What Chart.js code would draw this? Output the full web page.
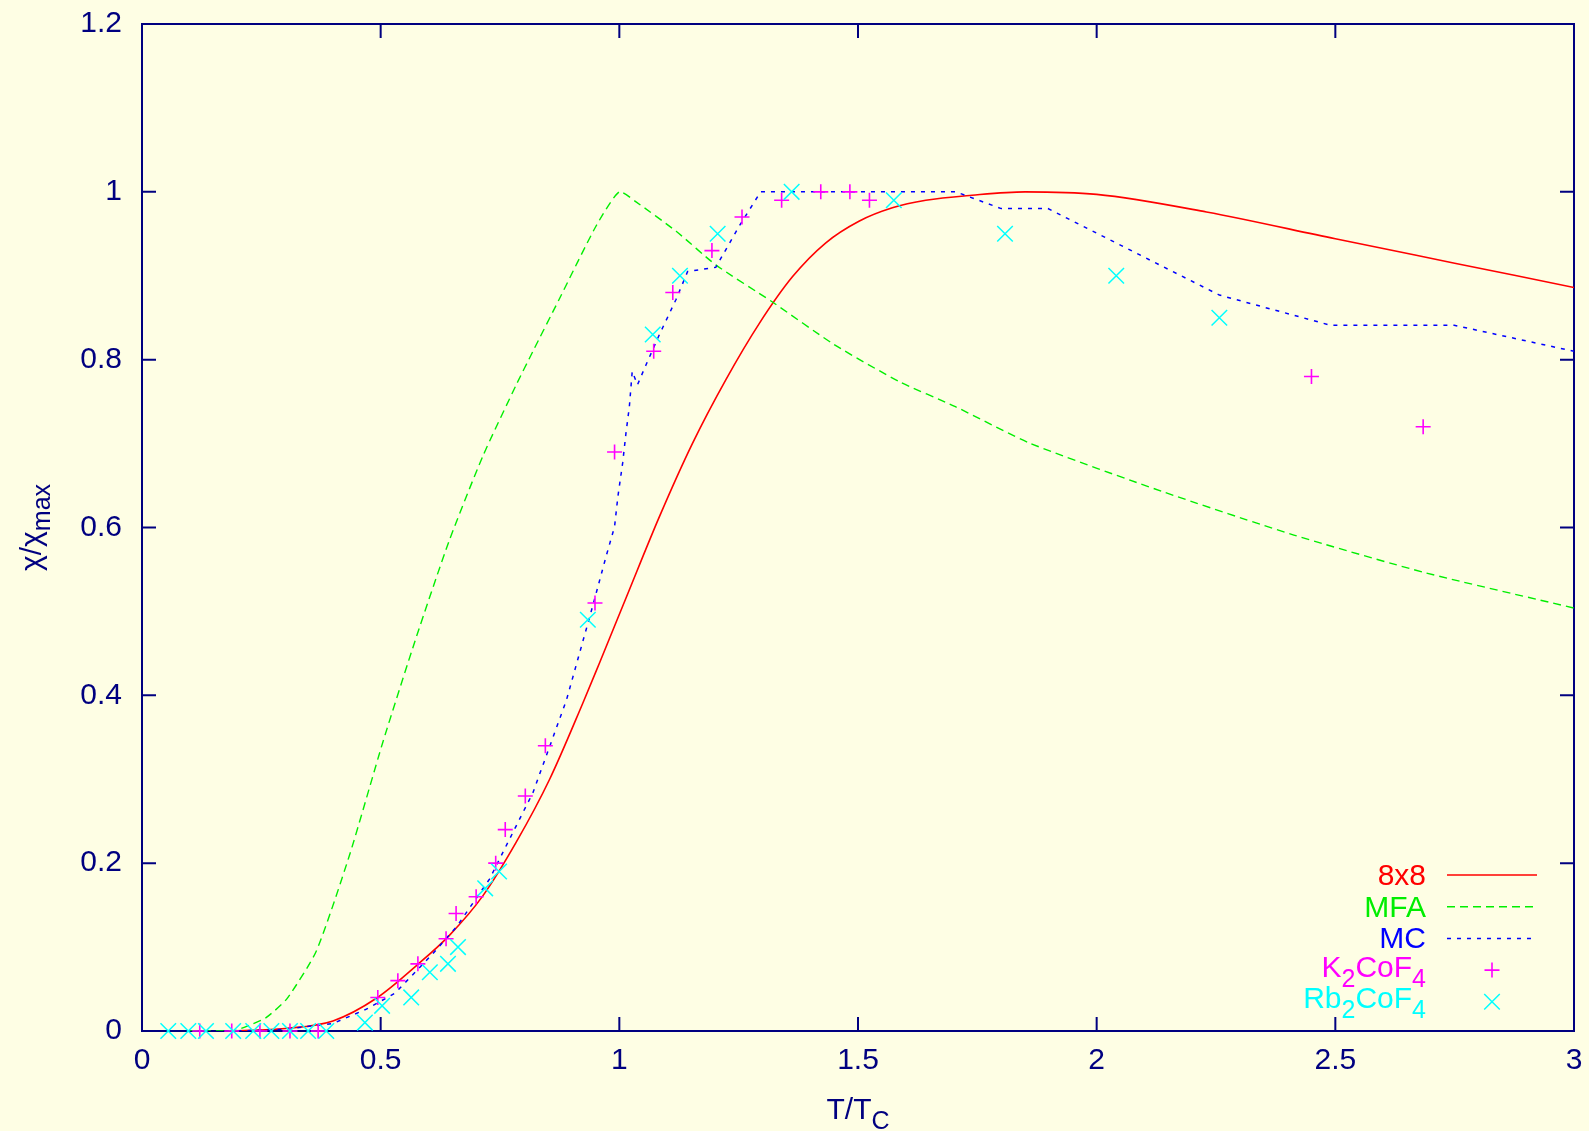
<!DOCTYPE html>
<html lang="en">
<head>
<meta charset="utf-8">
<title>chi / chi max</title>
<script src="https://cdn.jsdelivr.net/npm/chart.js@4.4.1/dist/chart.umd.min.js"></script>
<style>
  html, body { margin: 0; padding: 0; background: #fefee4; overflow: hidden; }
  #caixa { width: 1589px; height: 1131px; }
</style>
</head>
<body>
<div id="caixa"><canvas id="grafico"></canvas></div>
<script>
const corFundo = "#fefee4";
const corEixo = "#000080";
const fonte = "'Liberation Sans', Arial, Helvetica, sans-serif";

// eixos
const valoresX = [0, 0.5, 1, 1.5, 2, 2.5, 3];
const rotulosX = ["0", "0.5", "1", "1.5", "2", "2.5", "3"];
const valoresY = [0, 0.2, 0.4, 0.6, 0.8, 1, 1.2];
const rotulosY = ["0", "0.2", "0.4", "0.6", "0.8", "1", "1.2"];

// 8x8
const t8x8   = [0.19, 0.3, 0.4, 0.491, 0.575, 0.644, 0.714, 0.784, 0.854, 0.923, 0.958, 1.014, 1.084, 1.153, 1.223, 1.293, 1.363, 1.432, 1.502, 1.572, 1.642, 1.739, 1.85, 2.0, 2.23, 2.5, 2.75, 3.0];
const chi8x8 = [0, 0.003, 0.012, 0.039, 0.078, 0.114, 0.161, 0.225, 0.30, 0.39, 0.438, 0.516, 0.613, 0.70, 0.776, 0.843, 0.899, 0.939, 0.965, 0.981, 0.990, 0.996, 1.0, 0.997, 0.976, 0.944, 0.915, 0.886];

// MFA
const tMFA   = [0.1, 0.19, 0.226, 0.26, 0.303, 0.365, 0.435, 0.505, 0.575, 0.644, 0.714, 0.784, 0.819, 0.874, 0.951, 1.0, 1.035, 1.119, 1.202, 1.32, 1.45, 1.586, 1.704, 1.862, 2.137, 2.413, 2.689, 3.0];
const chiMFA = [0, 0, 0.007, 0.016, 0.038, 0.095, 0.21, 0.345, 0.47, 0.585, 0.685, 0.77, 0.81, 0.872, 0.959, 1.0, 0.988, 0.953, 0.913, 0.869, 0.818, 0.774, 0.744, 0.70, 0.643, 0.591, 0.546, 0.504];

// MC
const tMC   = [0.2, 0.3, 0.4, 0.47, 0.53, 0.609, 0.66, 0.728, 0.78, 0.819, 0.889, 0.944, 0.972, 0.99, 0.997, 1.007, 1.014, 1.021, 1.027, 1.038, 1.056, 1.084, 1.119, 1.143, 1.202, 1.251, 1.296, 1.705, 1.80, 1.898, 2.257, 2.49, 2.749, 3.0];
const chiMC = [0, 0.002, 0.009, 0.026, 0.045, 0.092, 0.125, 0.181, 0.24, 0.284, 0.394, 0.506, 0.565, 0.601, 0.637, 0.677, 0.713, 0.744, 0.786, 0.77, 0.794, 0.83, 0.872, 0.905, 0.91, 0.959, 1.0, 1.0, 0.98, 0.98, 0.877, 0.841, 0.841, 0.81];

// K2CoF4
const tK2CoF4   = [0.121, 0.188, 0.247, 0.31, 0.369, 0.494, 0.536, 0.578, 0.637, 0.658, 0.70, 0.741, 0.761, 0.803, 0.845, 0.949, 0.99, 1.072, 1.112, 1.194, 1.257, 1.34, 1.422, 1.483, 1.524, 2.45, 2.684];
const chiK2CoF4 = [0, 0, 0, 0, 0, 0.04, 0.06, 0.08, 0.11, 0.14, 0.16, 0.20, 0.24, 0.28, 0.34, 0.51, 0.69, 0.81, 0.88, 0.93, 0.97, 0.99, 1.0, 1.0, 0.99, 0.78, 0.72];

// Rb2CoF4
const tRb2CoF4   = [0.055, 0.097, 0.134, 0.191, 0.233, 0.271, 0.31, 0.348, 0.386, 0.467, 0.503, 0.564, 0.603, 0.641, 0.662, 0.719, 0.748, 0.934, 1.07, 1.127, 1.206, 1.361, 1.575, 1.808, 2.041, 2.257];
const chiRb2CoF4 = [0, 0, 0, 0, 0, 0, 0, 0, 0, 0.01, 0.03, 0.04, 0.07, 0.08, 0.10, 0.17, 0.19, 0.49, 0.83, 0.90, 0.95, 1.0, 0.99, 0.95, 0.90, 0.85];

// textos com indice: [texto, ehIndice]
const rotulosLegenda = [
    [["8x8", 0]],
    [["MFA", 0]],
    [["MC", 0]],
    [["K", 0], ["2", 1], ["CoF", 0], ["4", 1]],
    [["Rb", 0], ["2", 1], ["CoF", 0], ["4", 1]]
];
const tituloX = [["T/T", 0], ["C", 1]];
const tituloY = [["\u03c7/\u03c7", 0], ["max", 1]];

function pares(xs, ys) {
    return xs.map((x, i) => ({ x: x, y: ys[i] }));
}

function larguraTexto(ctx, partes, tam, tamIndice) {
    let w = 0;
    for (const [txt, indice] of partes) {
        ctx.font = `${indice ? tamIndice : tam}px ${fonte}`;
        w += ctx.measureText(txt).width;
    }
    return w;
}

function escreverTexto(ctx, partes, x, y, tam, tamIndice, desce) {
    ctx.textBaseline = "alphabetic";
    ctx.textAlign = "left";
    for (const [txt, indice] of partes) {
        ctx.font = `${indice ? tamIndice : tam}px ${fonte}`;
        ctx.fillText(txt, x, indice ? y + desce : y);
        x += ctx.measureText(txt).width;
    }
}

// sem folga extra nas pontas dos eixos, a area fica so com o padding do layout
function semFolga(s) {
    s.paddingTop = 0;
    s.paddingBottom = 0;
    s.paddingLeft = 0;
    s.paddingRight = 0;
}

const fundo = {
    id: "fundo",
    beforeDraw(chart) {
        const ctx = chart.ctx;
        ctx.save();
        ctx.fillStyle = corFundo;
        ctx.fillRect(0, 0, chart.width, chart.height);
        ctx.restore();
    }
};

// borda e ticks para dentro, estilo gnuplot
const moldura = {
    id: "moldura",
    beforeDatasetsDraw(chart) {
        const { ctx, chartArea: a, scales } = chart;
        const tam = 14;
        ctx.save();
        ctx.strokeStyle = corEixo;
        ctx.lineWidth = 2;
        ctx.beginPath();
        valoresX.forEach(v => {
            const px = scales.x.getPixelForValue(v);
            ctx.moveTo(px, a.bottom); ctx.lineTo(px, a.bottom - tam);
            ctx.moveTo(px, a.top); ctx.lineTo(px, a.top + tam);
        });
        valoresY.forEach(v => {
            const py = scales.y.getPixelForValue(v);
            ctx.moveTo(a.left, py); ctx.lineTo(a.left + tam, py);
            ctx.moveTo(a.right, py); ctx.lineTo(a.right - tam, py);
        });
        ctx.stroke();
        ctx.strokeRect(a.left, a.top, a.right - a.left, a.bottom - a.top);
        ctx.restore();
    }
};

const titulos = {
    id: "titulos",
    afterDraw(chart) {
        const { ctx, chartArea: a } = chart;
        ctx.save();
        ctx.fillStyle = corEixo;
        const wx = larguraTexto(ctx, tituloX, 30, 25);
        escreverTexto(ctx, tituloX, (a.left + a.right) / 2 - wx / 2, a.bottom + 88, 30, 25, 10);

        const wy = larguraTexto(ctx, tituloY, 30, 25);
        ctx.translate(41, (a.top + a.bottom) / 2);
        ctx.rotate(-Math.PI / 2);
        escreverTexto(ctx, tituloY, -wy / 2, 0, 30, 25, 9);
        ctx.restore();
    }
};

const legenda = {
    id: "legenda",
    afterDraw(chart) {
        const { ctx, chartArea: a } = chart;
        const xTexto = a.right - 148;
        const xMarca = a.right - 82;
        chart.data.datasets.forEach((ds, i) => {
            const yc = a.bottom - 156 + i * 31.7;
            const partes = rotulosLegenda[i];
            const temIndice = partes.some(p => p[1]);
            const w = larguraTexto(ctx, partes, 30, 25);
            ctx.save();
            ctx.fillStyle = ds.borderColor;
            escreverTexto(ctx, partes, xTexto - w, yc + (temIndice ? 6.5 : 10), 30, 25, 10);
            ctx.strokeStyle = ds.borderColor;
            ctx.beginPath();
            if (ds.showLine) {
                ctx.lineWidth = ds.borderWidth;
                ctx.setLineDash(ds.borderDash || []);
                ctx.moveTo(a.right - 127, yc);
                ctx.lineTo(a.right - 37, yc);
            } else if (ds.pointStyle === "cross") {
                const r = ds.pointRadius;
                ctx.lineWidth = ds.pointBorderWidth;
                ctx.moveTo(xMarca - r, yc); ctx.lineTo(xMarca + r, yc);
                ctx.moveTo(xMarca, yc - r); ctx.lineTo(xMarca, yc + r);
            } else {
                const r = ds.pointRadius * Math.SQRT1_2;
                ctx.lineWidth = ds.pointBorderWidth;
                ctx.moveTo(xMarca - r, yc - r); ctx.lineTo(xMarca + r, yc + r);
                ctx.moveTo(xMarca - r, yc + r); ctx.lineTo(xMarca + r, yc - r);
            }
            ctx.stroke();
            ctx.restore();
        });
    }
};

function criarGrafico() {
    const ctx = document.querySelector("#grafico");

    const datasets = [
        {
            label: "8x8",
            data: pares(t8x8, chi8x8),
            showLine: true,
            borderColor: "#ff0000",
            borderWidth: 1.6,
            cubicInterpolationMode: "monotone",
            pointRadius: 0,
            order: 4
        },
        {
            label: "MFA",
            data: pares(tMFA, chiMFA),
            showLine: true,
            borderColor: "#00ee00",
            borderWidth: 1.4,
            borderDash: [8, 5],
            tension: 0.2,
            pointRadius: 0,
            order: 3
        },
        {
            label: "MC",
            data: pares(tMC, chiMC),
            showLine: true,
            borderColor: "#0000ff",
            borderWidth: 1.5,
            borderDash: [4, 6],
            pointRadius: 0,
            order: 2
        },
        {
            label: "K2CoF4",
            data: pares(tK2CoF4, chiK2CoF4),
            showLine: false,
            borderColor: "#ff00ff",
            pointBorderColor: "#ff00ff",
            pointStyle: "cross",
            pointRadius: 7.5,
            pointBorderWidth: 1.6,
            clip: false,
            order: 1
        },
        {
            label: "Rb2CoF4",
            data: pares(tRb2CoF4, chiRb2CoF4),
            showLine: false,
            borderColor: "#00ffff",
            pointBorderColor: "#00ffff",
            pointStyle: "crossRot",
            pointRadius: 11,
            pointBorderWidth: 1.5,
            clip: false,
            order: 0
        }
    ];

    return new Chart(ctx, {
        type: "scatter",
        data: { datasets: datasets },
        options: {
            responsive: true,
            maintainAspectRatio: false,
            animation: false,
            devicePixelRatio: 1,
            events: [],
            layout: { autoPadding: false, padding: { left: 0, top: 24, right: 15, bottom: 0 } },
            plugins: { legend: { display: false }, tooltip: { enabled: false } },
            scales: {
                x: {
                    type: "linear",
                    min: 0,
                    max: 3,
                    afterBuildTicks: s => { s.ticks = valoresX.map(v => ({ value: v })); },
                    afterFit: s => { s.height = 100; semFolga(s); },
                    ticks: {
                        callback: (v, i) => rotulosX[i],
                        color: corEixo,
                        font: { family: fonte, size: 30 },
                        padding: 12,
                        maxRotation: 0,
                        autoSkip: false
                    },
                    grid: { display: false, drawTicks: false },
                    border: { display: false }
                },
                y: {
                    type: "linear",
                    min: 0,
                    max: 1.2,
                    afterBuildTicks: s => { s.ticks = valoresY.map(v => ({ value: v })); },
                    afterFit: s => { s.width = 142; semFolga(s); },
                    ticks: {
                        callback: (v, i) => rotulosY[i],
                        color: corEixo,
                        font: { family: fonte, size: 30 },
                        padding: 20,
                        autoSkip: false
                    },
                    grid: { display: false, drawTicks: false },
                    border: { display: false }
                }
            }
        },
        plugins: [fundo, moldura, titulos, legenda]
    });
}

window.onload = criarGrafico;
</script>
</body>
</html>
